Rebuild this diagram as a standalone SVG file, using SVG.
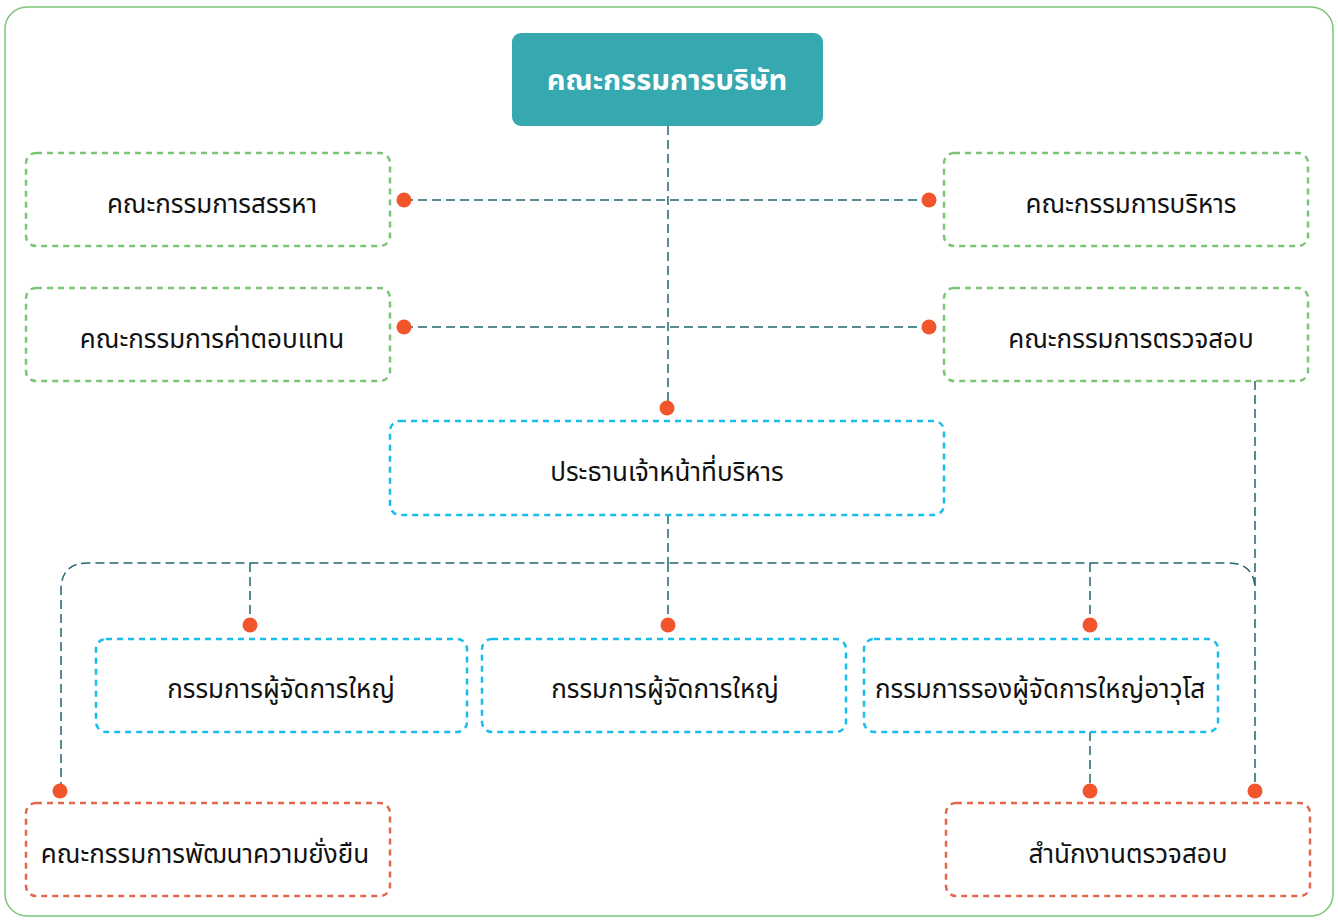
<svg xmlns="http://www.w3.org/2000/svg" width="1338" height="920" viewBox="0 0 1338 920">
<style>
.lbl{font-family:"Noto Sans Thai","Noto Sans","Liberation Sans",sans-serif;font-size:26px;fill:#111;text-anchor:middle;dominant-baseline:central}
.title{font-family:"Noto Sans Thai","Noto Sans","Liberation Sans",sans-serif;font-size:29px;font-weight:bold;fill:#fff;text-anchor:middle;dominant-baseline:central}
.g{fill:#fff;stroke:#7cc576;stroke-width:2.5;stroke-dasharray:6 5}
.b{fill:#fff;stroke:#18bdec;stroke-width:2.5;stroke-dasharray:6 5}
.o{fill:#fff;stroke:#e2684c;stroke-width:2.5;stroke-dasharray:6 5}
.c{fill:none;stroke:#22666f;stroke-width:1.5;stroke-dasharray:9 5}
.d{fill:#f2552c}
</style>
<rect x="5" y="7" width="1328" height="909" rx="22" fill="#fff" stroke="#7cc576" stroke-width="1.5"/>
<g id="connectors">
<path class="c" d="M668 126V408"/>
<path class="c" d="M404 200H929"/>
<path class="c" d="M404 327H929"/>
<path class="c" d="M668 515V563"/>
<path class="c" d="M61 791V590Q61 563 88 563H1228Q1255 563 1255 590"/>
<path class="c" d="M1255 381V791"/>
<path class="c" d="M250 563V625"/>
<path class="c" d="M668 563V625"/>
<path class="c" d="M1090 563V625"/>
<path class="c" d="M1090 732V791"/>
<circle class="d" cx="404" cy="200" r="7.5"/>
<circle class="d" cx="929" cy="200" r="7.5"/>
<circle class="d" cx="404" cy="327" r="7.5"/>
<circle class="d" cx="929" cy="327" r="7.5"/>
<circle class="d" cx="667" cy="408" r="7.5"/>
<circle class="d" cx="250" cy="625" r="7.5"/>
<circle class="d" cx="668" cy="625" r="7.5"/>
<circle class="d" cx="1090" cy="625" r="7.5"/>
<circle class="d" cx="60" cy="791" r="7.5"/>
<circle class="d" cx="1090" cy="791" r="7.5"/>
<circle class="d" cx="1255" cy="791" r="7.5"/>
</g>
<g id="board"><rect x="512" y="33" width="311" height="93" rx="9" fill="#35a8b0"/><text class="title" x="667" y="81">คณะกรรมการบริษัท</text></g>
<g id="nomination"><rect class="g" x="26" y="153" width="364" height="93" rx="10"/><text class="lbl" x="212" y="205">คณะกรรมการสรรหา</text></g>
<g id="executive"><rect class="g" x="944" y="153" width="364" height="93" rx="10"/><text class="lbl" x="1131" y="205">คณะกรรมการบริหาร</text></g>
<g id="remuneration"><rect class="g" x="26" y="288" width="364" height="93" rx="10"/><text class="lbl" x="212" y="340">คณะกรรมการค่าตอบแทน</text></g>
<g id="audit"><rect class="g" x="944" y="288" width="364" height="93" rx="10"/><text class="lbl" x="1131" y="340">คณะกรรมการตรวจสอบ</text></g>
<g id="ceo"><rect class="b" x="390" y="421" width="554" height="94" rx="10"/><text class="lbl" x="667" y="473">ประธานเจ้าหน้าที่บริหาร</text></g>
<g id="md1"><rect class="b" x="96" y="639" width="371" height="93" rx="10"/><text class="lbl" x="281" y="690">กรรมการผู้จัดการใหญ่</text></g>
<g id="md2"><rect class="b" x="482" y="639" width="364" height="93" rx="10"/><text class="lbl" x="665" y="690">กรรมการผู้จัดการใหญ่</text></g>
<g id="svp"><rect class="b" x="864" y="639" width="354" height="93" rx="10"/><text class="lbl" x="1040" y="690">กรรมการรองผู้จัดการใหญ่อาวุโส</text></g>
<g id="sustainability"><rect class="o" x="26" y="803" width="364" height="93" rx="10"/><text class="lbl" x="205" y="855">คณะกรรมการพัฒนาความยั่งยืน</text></g>
<g id="internal-audit"><rect class="o" x="946" y="803" width="364" height="93" rx="10"/><text class="lbl" x="1128" y="855">สำนักงานตรวจสอบ</text></g>
</svg>
